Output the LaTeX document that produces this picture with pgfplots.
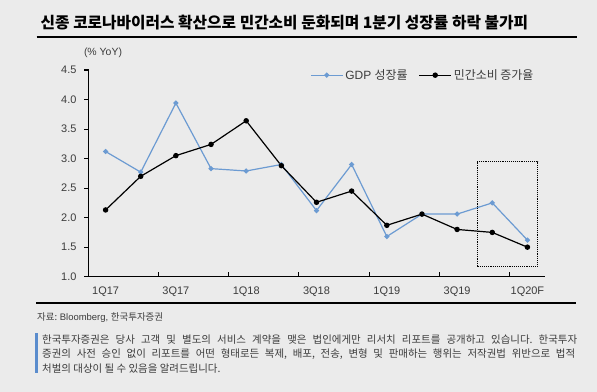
\documentclass[border=0pt]{standalone}
\usepackage{pgfplots}
\pgfplotsset{compat=1.18}
\usepackage{fontspec}
\setmainfont{Liberation Sans}
\newfontfamily\kr{Noto Sans CJK KR}
\frenchspacing
\definecolor{bg}{RGB}{235,235,235}
\definecolor{gdpblue}{RGB}{108,155,210}
\definecolor{barblue}{RGB}{90,140,205}
\definecolor{txt}{RGB}{60,60,60}
\begin{document}
\begin{tikzpicture}
\fill[bg] (0bp,0bp) rectangle (597bp,392bp);
\node[anchor=west, inner sep=0pt, font=\kr\fontsize{15.8}{18}\selectfont\bfseries, text=black] at (40.5bp,369bp) {신종 코로나바이러스 확산으로 민간소비 둔화되며 1분기 성장률 하락 불가피};
\node[anchor=south west, inner sep=0pt, outer sep=0pt] at (36.7bp,354.2bp) {\color{black}\rule{540bp}{2.2bp}};
\node[inner sep=0pt, font=\fontsize{10.5}{12}\selectfont, text=txt] at (103bp,339bp) {(\% YoY)};
\begin{axis}[
  at={(88bp,115.3bp)}, anchor=south west, scale only axis,
  width=457bp, height=206.7bp,
  xmin=-0.5, xmax=12.5, ymin=1, ymax=4.5,
  axis x line*=bottom, axis y line*=left,
  axis line style={black, line width=0.9bp},
  tick align=inside, major tick length=4.5bp,
  xtick={1.5,3.5,5.5,7.5,9.5,11.5},
  xticklabels={},
  x tick style={black, line width=1.1bp},
  extra x ticks={0,2,4,6,8,10,12},
  extra x tick labels={1Q17,3Q17,1Q18,3Q18,1Q19,3Q19,1Q20F},
  extra x tick style={major tick length=0pt},
  ytick={1,1.5,2,2.5,3,3.5,4,4.5},
  y tick style={black, line width=1.1bp, xshift=-4bp},
  /pgf/number format/fixed, /pgf/number format/fixed zerofill, /pgf/number format/precision=1, /pgf/number format/assume math mode=true,
  ticklabel style={font=\fontsize{11}{13}\selectfont, text=txt},
  xticklabel style={anchor=base, yshift=-18bp},
  yticklabel style={anchor=east, xshift=-8bp},
  legend style={at={(0.4858,0.975)}, anchor=west, draw=none, fill=none, inner sep=0pt,
    font=\fontsize{12}{14}\selectfont, text=txt,
    /tikz/every even column/.append style={column sep=9bp}},
  legend columns=2,
  legend image code/.code={\draw[mark repeat=2,mark phase=2,#1] plot coordinates {(0bp,0bp) (16bp,0bp) (32bp,0bp)};},
  clip=false,
]
\addplot[gdpblue, line width=1.2bp, mark=*, mark size=1.9bp, mark options={fill=gdpblue, draw=gdpblue}]
  coordinates {(0,3.12) (1,2.77) (2,3.94) (3,2.83) (4,2.79) (5,2.90) (6,2.12) (7,2.90) (8,1.68) (9,2.06) (10,2.06) (11,2.25) (12,1.62)};
\addlegendentry{GDP {\kr 성장률}}
\addplot[black, line width=1.2bp, mark=*, mark size=2.1bp, mark options={fill=black, draw=black}]
  coordinates {(0,2.13) (1,2.70) (2,3.05) (3,3.24) (4,3.64) (5,2.88) (6,2.26) (7,2.45) (8,1.87) (9,2.06) (10,1.80) (11,1.75) (12,1.50)};
\addlegendentry{{\kr 민간소비 증가율}}
\draw[black, line width=0.9bp, densely dotted] (axis cs:10.57,1.18) rectangle (axis cs:12.29,2.95);
\end{axis}
\node[anchor=south west, inner sep=0pt, outer sep=0pt] at (36bp,88.2bp) {\color{black}\rule{540bp}{2.2bp}};
\node[anchor=west, inner sep=0pt, font=\fontsize{9.5}{11}\selectfont, text=txt] at (37bp,74bp) {{\kr 자료:} Bloomberg, {\kr 한국투자증권}};
\fill[barblue] (35bp,19.3bp) rectangle (37.5bp,59.3bp);
\node[anchor=west, inner sep=0pt, font=\kr\fontsize{10.5}{12}\selectfont, text=txt] at (42bp,52.7bp) {\makebox[535bp][s]{한국투자증권은 당사 고객 및 별도의 서비스 계약을 맺은 법인에게만 리서치 리포트를 공개하고 있습니다. 한국투자}};
\node[anchor=west, inner sep=0pt, font=\kr\fontsize{10.5}{12}\selectfont, text=txt] at (42bp,37.7bp) {\makebox[533bp][s]{증권의 사전 승인 없이 리포트를 어떤 형태로든 복제, 배포, 전송, 변형 및 판매하는 행위는 저작권법 위반으로 법적}};
\node[anchor=west, inner sep=0pt, font=\kr\fontsize{10.5}{12}\selectfont, text=txt] at (42bp,23bp) {처벌의 대상이 될 수 있음을 알려드립니다.};
\end{tikzpicture}
\end{document}
